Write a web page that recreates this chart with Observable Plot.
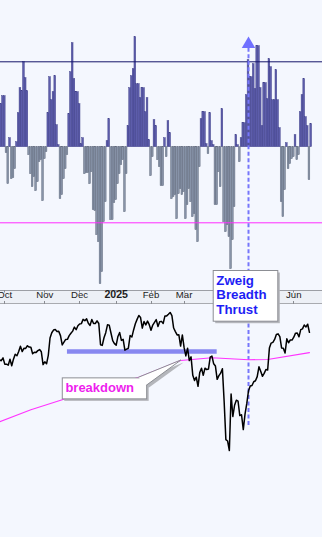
<!DOCTYPE html>
<html>
<head>
<meta charset="utf-8">
<script src="https://cdn.jsdelivr.net/npm/d3@7"></script>
<script src="https://cdn.jsdelivr.net/npm/@observablehq/plot@0.6"></script>
<style>
  html, body { margin: 0; padding: 0; background: #f4f7fe; }
  #chart { width: 322px; height: 537px; position: relative; overflow: hidden; background: #f4f7fe;
           font-family: "Liberation Sans", Arial, sans-serif; }
  #chart svg { display: block; position: relative; }
</style>
</head>
<body>
<div id="chart"></div>
<script>
// ---------------- DATA (trading-day index 0 = 2024-09-25) ----------------
// Breadth bars (top panel), one per trading day
const breadth = [
  40, 43, 43, 51, 51, -6, -37, 9, -32, -31,
  -22, 5, 34, 59, 56, 85, 69, 56, -8, -27,
  -40, -30, -44, -35, -15, -13, -54, -12, -5, 34,
  70, 47, 55, 71, 22, 2, -52, -48, -32, -22,
  -8, 33, 75, 104, 68, 55, 55, 43, 3, 9,
  -27, -26, -26, -37, -25, -63, -64, -88, -95, -137,
  -125, -75, -55, 6, 28, -73, -73, -56, -53, -37,
  -27, -18, -13, -65, -27, 21, 59, 71, 78, 110,
  63, 63, 49, 59, 59, 35, 49, 7, -29, -10,
  27, 21, -13, -20, -39, -39, 9, -10, 26, 14,
  -52, -50, -48, -72, -47, -42, -48, -45, -72, -58,
  -42, -55, -70, -67, -83, -95, -20, 28, 35, 35,
  3, -7, 34, 6, 2, -58, -58, -25, -40, 38,
  -75, -85, -78, -90, -122, -93, -60, 12, 2, -15,
  9, 24, 24, 52, 87, 70, 70, 83, 58, 101,
  101, 59, 21, 64, 64, 48, 88, 80, 47, 47,
  77, 47, 19, -55, -70, -43, 4, -22, -17, -12,
  -10, 12, -13, -8, 35, 52, 68, 30, 21, -33,
  23
];
const breadthUpper = 85.4;
const breadthLower = -75.6;

// Price (bottom panel), daily closes
const price = [
  5722, 5745, 5738, 5762,
  5709, 5709, 5700, 5751, 5696, 5751, 5792, 5780, 5815, 5859, 5815, 5842, 5841, 5864, 5853, 5851, 5797, 5809, 5808, 5823, 5832, 5813, 5705,
  5729, 5712, 5783, 5929, 5973, 5996, 6001, 5984, 5985, 5949, 5871, 5894, 5917, 5918, 5949, 5969, 5987, 6021, 5999, 6032,
  6047, 6050, 6086, 6075, 6090, 6053, 6035, 6085, 6051, 6051, 6074, 6051, 5872, 5867, 5931, 5974, 6040, 6037, 5971, 5907, 5882,
  5869, 5942, 5975, 5909, 5918, 5827, 5836, 5843, 5950, 5937, 5997, 6049, 6086, 6119, 6101, 6012, 6068, 6039, 6071, 6041,
  5994, 6038, 6061, 6084, 6026, 6066, 6069, 6052, 6115, 6115, 6129, 6144, 6118, 6013, 5983, 5955, 5956, 5861, 5955,
  5850, 5778, 5843, 5739, 5770, 5615, 5572, 5599, 5522, 5639, 5675, 5615, 5675, 5663, 5668, 5768, 5777, 5712, 5693, 5581, 5612,
  5633, 5671, 5397, 5074, 5062, 4982, 5457, 5268, 5363, 5406, 5397, 5276, 5283, 5158, 5288, 5376, 5485, 5525, 5529, 5561, 5569,
  5604, 5687, 5650, 5607, 5631, 5664, 5660, 5844, 5886, 5892, 5917, 5958, 5964, 5941, 5845, 5842, 5803, 5922, 5889, 5912, 5912,
  5936, 5970, 5971, 5939, 6000, 6006, 6038, 6022, 6045, 5977
];

// Moving average read at sample days
const maDay = [1, 19, 37, 81, 94, 105, 123, 144, 155, 179];
const maValue = [5224, 5325, 5409, 5599, 5675, 5740, 5763, 5746, 5748, 5806];

// Support line
const supportLevel = 5816;
const supportFrom = 40;
const supportTo = 126;

// Month tick labels at first trading day of each month
const monthLabels = ["Oct", "Nov", "Dec", "2025", "Feb", "Mar", "Apr", "May", "Jun"];
const monthStart = [4, 27, 47, 68, 88, 107, 128, 149, 170];

// Annotations
const zbtDay = 144;            // Zweig Breadth Thrust signal day
const zbtArrowLevel = 103;     // breadth units
const zbtLineTop = 99;         // breadth units
const zbtLineBottom = 5193;    // price units
const zbtText = ["Zweig", "Breadth", "Thrust"];
const breakdownDay = 105.5;
const breakdownValue = 5740;
const breakdownText = "breakdown";

// ---------------- STYLE ----------------
const W = 322;
const xDomain = [1.55, 186.5];
const topDomain = [-143.3, 146.7];
const botDomain = [4250, 6211];
const FONT = '"Liberation Sans", Arial, sans-serif';
const dashColor = "#7676fb";

const bars = breadth.map((v, i) => ({i, v}));
const priceRows = price.map((v, i) => ({i, v}));
const maRows = maDay.map((i, k) => ({i, v: maValue[k]}));
const ticks = monthLabels.map((label, k) => ({label, i: monthStart[k]}));

// axis strip drawn in bottom margin of top panel
function axisStrip(index, scales, values, dims) {
  const g = d3.create("svg:g");
  const top = dims.height - dims.marginBottom;
  g.append("rect").attr("x", 0).attr("y", top).attr("width", dims.width)
    .attr("height", dims.marginBottom).attr("fill", "#edf0f6");
  g.append("line").attr("x1", 0).attr("x2", dims.width).attr("y1", top + 0.5).attr("y2", top + 0.5)
    .attr("stroke", "#9c9ea4");
  g.append("line").attr("x1", 0).attr("x2", dims.width).attr("y1", dims.height - 0.5).attr("y2", dims.height - 0.5)
    .attr("stroke", "#a9abb0");
  for (const m of monthStart) {
    const x = Math.round(scales.x(m)) + 0.5;
    g.append("line").attr("x1", x).attr("x2", x).attr("y1", top).attr("y2", top + 2.5).attr("stroke", "#8a8c92");
    g.append("line").attr("x1", x).attr("x2", x).attr("y1", dims.height - 3).attr("y2", dims.height).attr("stroke", "#8a8c92");
  }
  return g.node();
}

function breakdownCallout(index, scales) {
  const tx = scales.x(breakdownDay), ty = scales.y(breakdownValue);
  const bx = tx - 119.2, by = ty + 17.4, bw = 84.4, bh = 21;
  const wedge = [[bx + bw - 8, by], [tx, ty], [bx + bw, by + 8]];
  const g = d3.create("svg:g").attr("text-anchor", "start");
  const sh = 2.5;
  g.append("rect").attr("x", bx + sh).attr("y", by + sh).attr("width", bw).attr("height", bh).attr("fill", "#b4b6bb");
  g.append("polygon").attr("points", wedge.map(p => [p[0] + sh, p[1] + sh].join(",")).join(" ")).attr("fill", "#b4b6bb");
  g.append("rect").attr("x", bx + 0.5).attr("y", by + 0.5).attr("width", bw).attr("height", bh)
    .attr("fill", "#ffffff").attr("stroke", "#8c8e94");
  g.append("polygon").attr("points", wedge.map(p => p.join(",")).join(" ")).attr("fill", "#ffffff");
  g.append("polyline").attr("points", wedge.map(p => p.join(",")).join(" ")).attr("fill", "none").attr("stroke", "#8c8e94");
  g.append("text").attr("x", bx + 3.6).attr("y", by + 14.2).attr("fill", "#ee1eee").attr("text-anchor", "start")
    .attr("font-family", FONT).attr("font-size", 13).attr("font-weight", "bold").text(breakdownText);
  return g.node();
}

function zbtCallout(index, scales) {
  const x0 = scales.x(zbtDay);
  const bx = x0 - 35.3, by = -34, bw = 64.6, bh = 50.7;
  const g = d3.create("svg:g").attr("text-anchor", "start");
  const sh = 2.5;
  g.append("rect").attr("x", bx + sh).attr("y", by + sh).attr("width", bw).attr("height", bh).attr("fill", "#b4b6bb");
  g.append("rect").attr("x", bx + 0.5).attr("y", by + 0.5).attr("width", bw).attr("height", bh)
    .attr("fill", "#ffffff").attr("stroke", "#8c8e94");
  zbtText.forEach((t, k) => {
    g.append("text").attr("x", bx + 3.6).attr("y", by + 15 + k * 14.4).attr("fill", "#1e1ef5").attr("text-anchor", "start")
      .attr("font-family", FONT).attr("font-size", 13.3).attr("font-weight", "bold").text(t);
  });
  return g.node();
}

const topPlot = Plot.plot({
  width: W, height: 304,
  marginTop: 0, marginRight: 0, marginLeft: 0, marginBottom: 14,
  x: {domain: xDomain, axis: null},
  y: {domain: topDomain, axis: null},
  style: {background: "transparent", overflow: "visible", fontFamily: FONT},
  marks: [
    axisStrip,
    Plot.rect(bars.filter(d => d.v >= 0), {
      x1: d => d.i - 0.5, x2: d => d.i + 0.5, y1: () => 0, y2: "v",
      fill: "#5d5dab", stroke: "#3d3d88", strokeWidth: 0.45
    }),
    Plot.rect(bars.filter(d => d.v < 0), {
      x1: d => d.i - 0.5, x2: d => d.i + 0.5, y1: () => 0, y2: "v",
      fill: "#8793a8", stroke: "#5f687b", strokeWidth: 0.45
    }),
    Plot.ruleY([breadthUpper], {stroke: "#15156a", strokeWidth: 1}),
    Plot.ruleY([breadthLower], {stroke: "#ff2cff", strokeWidth: 1}),
    Plot.ruleX([zbtDay], {
      y1: () => zbtLineTop, y2: () => topDomain[0] - 14,
      stroke: dashColor, strokeWidth: 2, strokeDasharray: "4,2.5"
    }),
    Plot.dot([zbtDay], {
      x: d => d, y: () => zbtArrowLevel, symbol: "triangle", r: 5, fill: "#7070ff", stroke: "none"
    }),
    Plot.text(ticks.filter(d => !/^\d/.test(d.label)), {
      x: "i", text: "label", frameAnchor: "bottom", dy: 7.4,
      fontSize: 9.6, fill: "#1c1c1c", fontFamily: FONT
    }),
    Plot.text(ticks.filter(d => /^\d/.test(d.label)), {
      x: "i", text: "label", frameAnchor: "bottom", dy: 7.4,
      fontSize: 10.6, fontWeight: "bold", fill: "#1c1c1c", fontFamily: FONT
    })
  ]
});

const bottomPlot = Plot.plot({
  width: W, height: 233,
  marginTop: 0, marginRight: 0, marginLeft: 0, marginBottom: 0,
  x: {domain: xDomain, axis: null},
  y: {domain: botDomain, axis: null},
  style: {background: "transparent", overflow: "visible", fontFamily: FONT},
  marks: [
    Plot.ruleX([zbtDay], {
      y1: () => botDomain[1], y2: () => zbtLineBottom,
      stroke: dashColor, strokeWidth: 2, strokeDasharray: "4,2.5"
    }),
    Plot.line(maRows, {x: "i", y: "v", stroke: "#ff33ff", strokeWidth: 1.1}),
    Plot.ruleY([supportLevel], {x1: () => supportFrom, x2: () => supportTo, stroke: "#8888f0", strokeWidth: 4.5}),
    Plot.line(priceRows, {x: "i", y: "v", stroke: "#000000", strokeWidth: 1.5}),
    breakdownCallout,
    zbtCallout
  ]
});
bottomPlot.style.zIndex = 2;

const chart = document.getElementById("chart");
chart.appendChild(topPlot);
chart.appendChild(bottomPlot);
</script>
</body>
</html>
